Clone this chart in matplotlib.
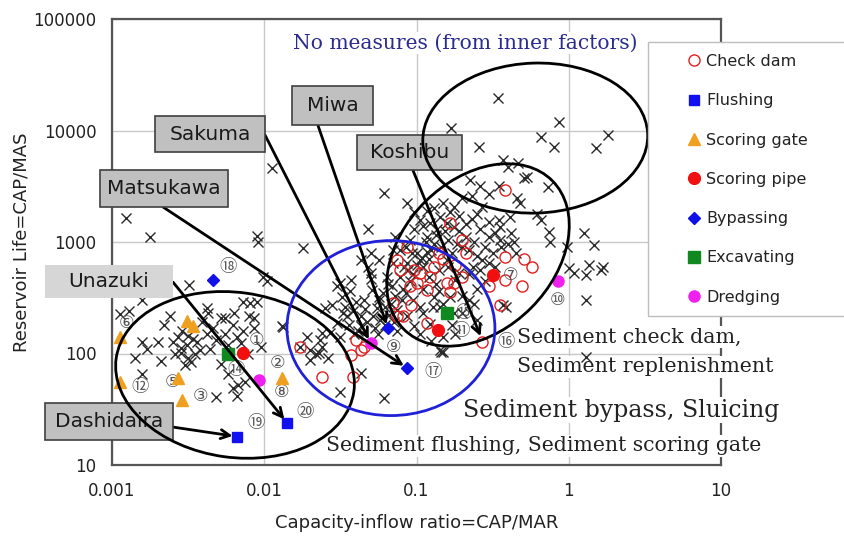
import matplotlib
matplotlib.use("Agg")
import matplotlib.pyplot as plt
from matplotlib.patches import Ellipse, Rectangle
from matplotlib.transforms import IdentityTransform
from matplotlib.ticker import FixedLocator, FixedFormatter, NullLocator

# ---------------- data ----------------
x_ticks = [0.001, 0.01, 0.1, 1, 10]
x_tick_labels = ["0.001", "0.01", "0.1", "1", "10"]
y_ticks = [10, 100, 1000, 10000, 100000]
y_tick_labels = ["10", "100", "1000", "10000", "100000"]

# reservoirs without measures (x markers)
none_x = [0.00124, 0.00178, 0.0090, 0.0091, 0.0113, 0.0181, 0.0483, 0.0615,
          0.00113, 0.00158, 0.002, 0.00142, 0.00158, 0.00251, 0.00282, 0.00316, 0.003, 0.0033,
          0.00282, 0.0036, 0.0034, 0.0042, 0.0048, 0.0055, 0.0052, 0.0055, 0.0062, 0.0066,
          0.0081, 0.0085, 0.0095, 0.0048, 0.0062, 0.0067, 0.0075, 0.0066, 0.0042, 0.00316,
          0.0038, 0.0032, 0.0105, 0.0024, 0.0043, 0.008, 0.0073, 0.0089, 0.0133, 0.0098,
          0.00158, 0.0027, 0.0029, 0.0031, 0.0026, 0.0035, 0.0044, 0.0058, 0.0070, 0.0078,
          0.0013, 0.0022, 0.0039, 0.0046, 0.0063, 0.0072, 0.0086, 0.0017, 0.0021, 0.0052,
          0.0058,
          0.0131, 0.019, 0.0172, 0.02, 0.0218, 0.0232, 0.024, 0.0264, 0.027, 0.0316, 0.030,
          0.0251, 0.028, 0.0324, 0.030, 0.0365, 0.0398, 0.043, 0.035, 0.041, 0.043, 0.048,
          0.05, 0.051, 0.057, 0.055, 0.069, 0.078, 0.087, 0.094, 0.070, 0.057, 0.05, 0.043,
          0.0316, 0.12, 0.128, 0.143, 0.105, 0.087, 0.096, 0.105, 0.117, 0.123, 0.096, 0.09,
          0.117, 0.137, 0.15, 0.143, 0.167, 0.175, 0.05, 0.037, 0.045, 0.057, 0.064, 0.07,
          0.078, 0.10, 0.11, 0.13, 0.143, 0.105, 0.087, 0.075, 0.052, 0.043, 0.033, 0.096,
          0.123, 0.15, 0.175, 0.167, 0.18, 0.023, 0.02, 0.024, 0.061, 0.0316,
          0.034, 0.038, 0.036, 0.039, 0.046, 0.047, 0.053, 0.058, 0.062, 0.066, 0.071, 0.08,
          0.085, 0.09, 0.095, 0.083, 0.11, 0.135, 0.14, 0.16, 0.17, 0.145, 0.125, 0.115,
          0.2, 0.22, 0.24, 0.28, 0.32, 0.33, 0.28, 0.25, 0.22, 0.2, 0.18, 0.25,
          0.06, 0.065, 0.072, 0.082, 0.088, 0.1, 0.108, 0.118, 0.13, 0.135, 0.155, 0.16,
          0.19, 0.21, 0.23, 0.25, 0.3, 0.33, 0.25, 0.22, 0.26, 0.3, 0.36, 0.42, 0.45, 0.2,
          0.24, 0.15, 0.11, 0.095, 0.068, 0.062, 0.056, 0.075, 0.105, 0.125, 0.17, 0.14,
          0.12, 0.085, 0.072, 0.11, 0.13, 0.2, 0.35,
          0.341, 0.859, 0.655, 0.796, 1.81, 1.51, 0.168, 0.256, 0.368, 0.461, 0.506, 0.728,
          1.26, 1.46, 0.738, 0.75, 0.98, 0.655, 1.67, 1.35, 1.08, 1.29, 1.62, 1.29, 1.29,
          0.144, 1.0, 0.346, 0.434, 0.386,
          0.224, 0.26, 0.30, 0.23, 0.27, 0.175, 0.19, 0.158, 0.40, 0.53, 0.48, 0.41, 0.355,
          0.30, 0.26, 0.21, 0.185, 0.355, 0.40, 0.27, 0.235, 0.158, 0.19, 0.46, 0.62, 0.37,
          0.15]
none_y = [1640, 1110, 1130, 1000, 4610, 884, 1310, 2750,
          224, 126, 126, 92, 65, 126, 102, 92, 79, 84,
          112, 126, 135, 150, 132, 150, 210, 210, 180, 141,
          282, 210, 115, 41, 49, 52, 55, 42, 255, 145,
          108, 410, 450, 215, 230, 215, 290, 290, 172, 490,
          300, 140, 160, 120, 100, 98, 110, 120, 125, 100,
          240, 180, 190, 170, 230, 160, 170, 110, 85, 80,
          65,
          175, 141, 115, 108, 98, 132, 115, 91, 152, 141, 188,
          255, 275, 320, 400, 360, 290, 215, 215, 160, 67, 600,
          470, 370, 300, 255, 400, 490, 650, 800, 850, 690, 800, 690,
          430, 490, 260, 108, 690, 2240, 1850, 1580, 1880, 1480, 1310, 1040,
          1120, 1310, 2240, 1680, 1850, 1370, 525, 460, 300, 320, 490, 650,
          840, 800, 600, 320, 260, 260, 215, 245, 215, 175, 230, 175,
          185, 140, 230, 320, 460, 102, 88, 152, 40, 45,
          260, 240, 180, 150, 250, 190, 170, 200, 260, 220, 190, 300,
          350, 450, 520, 600, 380, 420, 560, 600, 800, 900, 850, 1000,
          900, 850, 1000, 900, 800, 600, 450, 380, 300, 230, 150, 200,
          350, 420, 330, 380, 560, 620, 720, 820, 950, 1150, 1250, 1050,
          1250, 1450, 1600, 1800, 1500, 1200, 750, 520, 560, 650, 900, 1200, 800, 330,
          280, 280, 230, 300, 280, 180, 150, 160, 150, 130, 180, 360,
          700, 900, 1100, 1400, 2000, 2500, 3200,
          19500, 11900, 8750, 7110, 9120, 6970, 10500, 7110, 5440, 5110, 3750, 3110,
          1200, 940, 1230, 1000, 900, 1575, 597, 622, 527, 506, 561, 302, 93,
          103, 580, 1575, 1000, 261,
          3600, 3160, 2700, 2600, 2080, 2080, 1700, 1480, 4700, 3800, 2240, 1680, 1370,
          1120, 1310, 1120, 950, 1040, 950, 690, 600, 690, 525, 2500, 1800, 270,
          104]

check_x = [0.0172, 0.024, 0.038, 0.045, 0.04, 0.074, 0.07, 0.092, 0.078, 0.074, 0.105,
           0.10, 0.117, 0.123, 0.13, 0.158, 0.167, 0.117, 0.087, 0.096, 0.09, 0.175, 0.082,
           0.043, 0.037, 0.38, 0.38, 0.51, 0.57, 0.49, 0.38, 0.30, 0.20, 0.21, 0.20, 0.27,
           0.355, 0.167, 0.15, 0.18, 0.14]
check_y = [115, 62, 62, 115, 132, 215, 285, 275, 560, 690, 525,
           430, 370, 490, 600, 430, 355, 188, 900, 560, 400, 430, 215,
           108, 96, 2950, 730, 700, 600, 400, 460, 400, 490, 800, 1040, 126,
           270, 1480, 700, 620, 800]

flush_x = [0.0066, 0.0141]
flush_y = [18, 24]
gate_x = [0.00113, 0.00113, 0.0031, 0.0034, 0.0029, 0.0027, 0.0131]
gate_y = [141, 56, 195, 175, 38, 60, 60]
pipe_x = [0.0072, 0.316, 0.139]
pipe_y = [102, 510, 163]
bypass_x = [0.0046, 0.065, 0.087]
bypass_y = [455, 168, 74]
excav_x = [0.0058, 0.158]
excav_y = [98, 232]
dredge_x = [0.0093, 0.05, 0.85]
dredge_y = [58, 124, 450]

# circled numbers and their anchor values
num_labels = ["①", "②", "③", "⑤", "⑥", "⑦", "⑧", "⑨", "⑩", "⑪", "⑫", "⑭", "⑮",
              "⑯", "⑰", "⑱", "⑲", "⑳"]
num_x = [0.0089, 0.0123, 0.0038, 0.0025, 0.00125, 0.415, 0.013, 0.0708, 0.85, 0.195,
         0.00152, 0.0065, 0.205, 0.385, 0.129, 0.0058, 0.0089, 0.0186]
num_y = [132, 82, 42, 55, 188, 506, 45, 115, 302, 158, 50, 71, 231, 126, 68, 597, 23.8, 29.9]

# dam name boxes: (name, end x, end y)
dam_names = ["Sakuma", "Miwa", "Koshibu", "Matsukawa", "Unazuki", "Dashidaira"]
dam_target_x = [0.05, 0.065, 0.27, 0.087, 0.0141, 0.0066]
dam_target_y = [124, 168, 132, 74, 24, 18]

# ---------------- figure ----------------
W, H = 844, 536
fig = plt.figure(figsize=(W / 100, H / 100), dpi=100)
ax = fig.add_axes([112 / W, 71 / H, 609 / W, 446 / H])
ax.set_xscale("log")
ax.set_yscale("log")
ax.set_xlim(0.001, 10)
ax.set_ylim(10, 100000)

ax.xaxis.set_major_locator(FixedLocator(x_ticks))
ax.xaxis.set_major_formatter(FixedFormatter(x_tick_labels))
ax.yaxis.set_major_locator(FixedLocator(y_ticks))
ax.yaxis.set_major_formatter(FixedFormatter(y_tick_labels))
ax.xaxis.set_minor_locator(NullLocator())
ax.yaxis.set_minor_locator(NullLocator())
ax.tick_params(axis="both", length=0, labelsize=12, colors="#222222")
ax.tick_params(axis="x", pad=12)
ax.tick_params(axis="y", pad=11)
ax.grid(True, color="#c8c8c8", lw=1.0, zorder=0)
ax.set_axisbelow(True)
for s in ax.spines.values():
    s.set_color("#555555")
    s.set_linewidth(1.6)

ax.set_xlabel("Capacity-inflow ratio=CAP/MAR", fontsize=13, color="#222222", labelpad=10)
ax.set_ylabel("Reservoir Life=CAP/MAS", fontsize=13, color="#222222", labelpad=2)

# ---------------- markers ----------------
ax.plot(none_x, none_y, ls="none", marker="x", ms=7.5, mew=1.0, color="#2a2a2a", zorder=4)
ax.plot(check_x, check_y, ls="none", marker="o", ms=8, mew=1.0, mfc="none", mec="#e02020",
        zorder=5, label="Check dam")
ax.plot(flush_x, flush_y, ls="none", marker="s", ms=6.5, color="#1010f0", zorder=6, label="Flushing")
ax.plot(gate_x, gate_y, ls="none", marker="^", ms=8.5, color="#f0a020", zorder=6, label="Scoring gate")
ax.plot(pipe_x, pipe_y, ls="none", marker="o", ms=8.5, color="#f01010", zorder=6, label="Scoring pipe")
ax.plot(bypass_x, bypass_y, ls="none", marker="D", ms=6.5, color="#1010e8", zorder=6, label="Bypassing")
ax.plot(excav_x, excav_y, ls="none", marker="s", ms=8.5, color="#108a20", zorder=6, label="Excavating")
ax.plot(dredge_x, dredge_y, ls="none", marker="o", ms=8, color="#f020f0", zorder=6, label="Dredging")

for lab, xv, yv in zip(num_labels, num_x, num_y):
    ax.text(xv, yv, lab, fontsize=12.5, color="#555555", ha="center", va="center",
            family=["DejaVu Sans", "Noto Sans CJK JP"], zorder=5)

# ---------------- ellipses (drawn in pixel space) ----------------
def ellipse(fx, fy, w, h, ang, color, lw, z=2.6):
    cx, cy = ax.transAxes.transform((fx, fy))
    e = Ellipse((cx, cy), w, h, angle=ang, transform=IdentityTransform(),
                fill=False, edgecolor=color, lw=lw, zorder=z, clip_on=False)
    fig.add_artist(e)

ellipse(0.695, 0.733, 225, 150, 2, "black", 2.0)
ellipse(0.601, 0.471, 210, 150, 45, "black", 2.0)
ellipse(0.202, 0.202, 240, 165, -8, "black", 2.0)
ellipse(0.458, 0.307, 208, 175, 0, "#2020d8", 2.0)

# ---------------- region texts ----------------
serif = ["DejaVu Serif"]
bb = dict(facecolor="white", edgecolor="none", pad=1)
ax.text(0.297, 0.946, "No measures (from inner factors)", transform=ax.transAxes, fontsize=14.6,
        family=serif, color="#2b2b90", va="center", ha="left", bbox=bb, zorder=3)
ax.text(0.665, 0.287, "Sediment check dam,", transform=ax.transAxes, fontsize=14.8,
        family=serif, color="#222222", va="center", ha="left", bbox=bb, zorder=3, clip_on=False)
ax.text(0.665, 0.220, "Sediment replenishment", transform=ax.transAxes, fontsize=14.8,
        family=serif, color="#222222", va="center", ha="left", bbox=bb, zorder=3, clip_on=False)
ax.text(0.576, 0.123, "Sediment bypass, Sluicing", transform=ax.transAxes, fontsize=17,
        family=serif, color="#222222", va="center", ha="left", bbox=bb, zorder=3, clip_on=False)
ax.text(0.351, 0.043, "Sediment flushing, Sediment scoring gate", transform=ax.transAxes,
        fontsize=14.7, family=serif, color="#222222", va="center", ha="left", bbox=bb, zorder=3,
        clip_on=False)

# ---------------- name boxes and arrows ----------------
box_layout = {  # x0, y0, x1, y1 (axes fraction), fill, edge, arrow start (axes fraction)
    "Sakuma": (0.0706, 0.7018, 0.2512, 0.7825, "#c0c0c0", "#404040", (0.2512, 0.740)),
    "Miwa": (0.2956, 0.7623, 0.4286, 0.8498, "#c0c0c0", "#404040", (0.338, 0.7623)),
    "Koshibu": (0.4023, 0.6614, 0.5747, 0.7399, "#c0c0c0", "#404040", (0.494, 0.6614)),
    "Matsukawa": (-0.0197, 0.5785, 0.1905, 0.6614, "#c0c0c0", "#404040", (0.0837, 0.5785)),
    "Unazuki": (-0.110, 0.3744, 0.1002, 0.4484, "#d6d6d6", "none", (0.1002, 0.41)),
    "Dashidaira": (-0.110, 0.0561, 0.1002, 0.139, "#c0c0c0", "#404040", (0.1002, 0.085)),
}
for name, tx, ty in zip(dam_names, dam_target_x, dam_target_y):
    x0, y0, x1, y1, fc, ec, start = box_layout[name]
    ax.annotate("", xy=(tx, ty), xycoords="data", xytext=start, textcoords="axes fraction",
                arrowprops=dict(arrowstyle="->", lw=2.0, color="black", shrinkA=0, shrinkB=3,
                                mutation_scale=16),
                zorder=7, annotation_clip=False)
    r = Rectangle((x0, y0), x1 - x0, y1 - y0, transform=ax.transAxes, facecolor=fc,
                  edgecolor=ec, lw=1.2, zorder=8, clip_on=False)
    ax.add_patch(r)
    ax.text((x0 + x1) / 2, (y0 + y1) / 2, name, transform=ax.transAxes, fontsize=14.5,
            color="#1a1a1a", ha="center", va="center", zorder=9, clip_on=False)

# ---------------- legend ----------------
fig.add_artist(Rectangle((648 / W, 1 - 316 / H), 210 / W, 274 / H, transform=fig.transFigure,
                         facecolor="white", edgecolor="#bdbdbd", lw=1.0, zorder=10))
handles, labels = ax.get_legend_handles_labels()
leg = fig.legend(handles, labels, loc="upper left", bbox_to_anchor=(686 / W, 1 - 54 / H),
                 bbox_transform=fig.transFigure, frameon=False, fontsize=11.5,
                 handlelength=1.0, handletextpad=0.25, labelspacing=1.52, borderpad=0,
                 borderaxespad=0)
leg.set_zorder(11)
for t in leg.get_texts():
    t.set_color("#222222")

fig.savefig("out.png", dpi=100)
